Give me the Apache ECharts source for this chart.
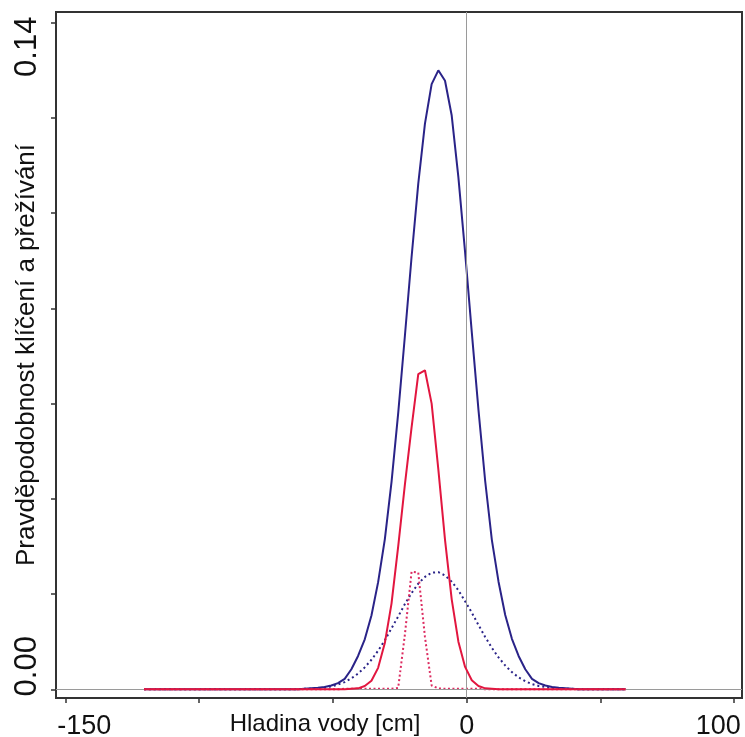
<!DOCTYPE html>
<html>
<head>
<meta charset="utf-8">
<script src="https://cdn.jsdelivr.net/npm/echarts@6/dist/echarts.min.js"></script>
<style>html,body{margin:0;padding:0;background:#fff}#c{width:745px;height:737px}</style>
</head>
<body>
<div id="c"></div>
<script>
// Water level [cm] sample positions
var waterLevel = [
  -120.6,-118.1,-115.6,-113.1,-110.6,-108.1,-105.6,-103.1,-100.6,-98.1,
  -95.6,-93.1,-90.6,-88.1,-85.6,-83.1,-80.6,-78.1,-75.6,-73.1,
  -70.6,-68.1,-65.6,-63.1,-60.6,-58.1,-55.6,-53.1,-50.6,-48.1,
  -45.6,-43.1,-40.6,-38.1,-35.6,-33.1,-30.6,-28.1,-25.6,-23.1,
  -20.6,-18.1,-15.6,-13.1,-10.6,-8.1,-5.6,-3.1,-0.6,1.9,
  4.4,6.9,9.4,11.9,14.4,16.9,19.4,21.9,24.4,26.9,
  29.4,31.9,34.4,36.9,39.4,41.9,44.4,46.9,49.4,51.9,
  54.4,56.9,59.4
];
// blue solid
var blueSolid = [
  0,0,0,0,0,0,0,0,0,0,
  0,0,0,0,0,0,0,0,0,0,
  0,0,0,0,0.0001,0.0002,0.0003,0.0005,0.0008,0.0013,
  0.0022,0.0042,0.0070,0.0105,0.0155,0.0225,0.0315,0.0435,0.0580,0.0742,
  0.0908,0.1062,0.1188,0.1271,0.1300,0.1278,0.1205,0.1075,0.0918,0.0750,
  0.0587,0.0438,0.0314,0.0226,0.0156,0.0106,0.0070,0.0042,0.0022,0.0013,
  0.0008,0.0005,0.0003,0.0002,0.0001,0,0,0,0,0,
  0,0,0
];
// blue dotted
var blueDotted = [
  0,0,0,0,0,0,0,0,0,0,
  0,0,0,0,0,0,0,0,0,0,
  0,0,0,0,0.0001,0.0001,0.0002,0.0004,0.0006,0.0010,
  0.0015,0.0023,0.0033,0.0046,0.0062,0.0081,0.0103,0.0128,0.0153,0.0179,
  0.0202,0.0222,0.0236,0.0245,0.0246,0.0239,0.0226,0.0208,0.0185,0.0161,
  0.0135,0.0110,0.0087,0.0067,0.0050,0.0036,0.0025,0.0017,0.0011,0.0007,
  0.0005,0.0003,0.0002,0.0001,0.0001,0,0,0,0,0,
  0,0,0
];
// red solid
var redSolid = [
  0,0,0,0,0,0,0,0,0,0,
  0,0,0,0,0,0,0,0,0,0,
  0,0,0,0,0,0,0,0,0,0,
  0,0.0001,0.0002,0.0007,0.0018,0.0045,0.0097,0.0180,0.0300,0.0430,
  0.0550,0.0662,0.0670,0.0600,0.0462,0.0314,0.0189,0.0100,0.0047,0.0019,
  0.0007,0.0002,0.0001,0,0,0,0,0,0,0,
  0,0,0,0,0,0,0,0,0,0,
  0,0,0
];
// red dotted
var redDotted = [
  0,0,0,0,0,0,0,0,0,0,
  0,0,0,0,0,0,0,0,0,0,
  0,0,0,0,0,0,0,0,0,0,
  0.0001,0.0001,0.0001,0.0001,0.0001,0.0001,0.0001,0.0001,0.0003,0.0115,
  0.0247,0.0245,0.0110,0.0008,0.0002,0.0001,0.0001,0.0001,0.0001,0.0001,
  0.0001,0,0,0,0,0,0,0,0,0,
  0,0,0,0,0,0,0,0,0,0,
  0,0,0
];
var xTicks = [-150,-100,-50,0,50,100];
var xTickLabels = [-150,0,100];
var yTicks = [0,0.02,0.04,0.06,0.08,0.10,0.12,0.14];
var yTickLabels = [0,0.14];
var xTitle = 'Hladina vody [cm]';
var yTitle = 'Pravděpodobnost klíčení a přežívání';

function pairs(vals){ return waterLevel.map(function(x,i){ return [x, vals[i]]; }); }

var FONT = 'Liberation Sans, Arial, sans-serif';
var BLUE = '#2a2388';
var RED = '#e2163f';
var REDDOT = '#dc2b60';

var chart = echarts.init(document.getElementById('c'), null, {renderer:'canvas'});
chart.setOption({
  animation: false,
  backgroundColor: '#ffffff',
  grid: {left:56, top:12, right:3, bottom:39, show:true, borderColor:'#333', borderWidth:2, containLabel:false, outerBoundsMode:'none'},
  xAxis: {
    type:'value', min:-153.5, max:102.9, position:'bottom',
    axisLine:{show:false, onZero:false},
    splitLine:{show:false},
    axisTick:{show:true, customValues:xTicks, length:5, inside:false, lineStyle:{color:'#333', width:1.5}},
    axisLabel:{
      customValues:xTickLabels, margin:15, color:'#111', fontFamily:FONT, fontSize:27,
      formatter:function(v){ if(v===-150) return '{a|-150}'; if(v===100) return '{c|100}'; return '{b|'+v+'}'; },
      rich:{
        a:{fontSize:27, fontFamily:FONT, color:'#111', padding:[0,0,0,38]},
        b:{fontSize:27, fontFamily:FONT, color:'#111'},
        c:{fontSize:27, fontFamily:FONT, color:'#111', padding:[0,32,0,0]}
      }
    },
    name:xTitle, nameLocation:'middle', nameGap:14, nameMoveOverlap:false,
    nameTextStyle:{fontSize:24, fontFamily:FONT, color:'#111', padding:[0,148,0,0], verticalAlign:'top'}
  },
  yAxis: {
    type:'value', min:-0.00183, max:0.14225, position:'left',
    axisLine:{show:false, onZero:false},
    splitLine:{show:false},
    axisTick:{show:true, customValues:yTicks, length:5, inside:false, lineStyle:{color:'#333', width:1.5}},
    axisLabel:{
      customValues:yTickLabels, rotate:90, margin:13, color:'#111', fontFamily:FONT, fontSize:31,
      formatter:function(v){ return v===0 ? '{lo|0.00}' : '{hi|0.14}'; },
      rich:{
        lo:{fontSize:31, fontFamily:FONT, color:'#111', padding:[0,0,0,46]},
        hi:{fontSize:31, fontFamily:FONT, color:'#111', padding:[0,48,0,0]}
      }
    },
    name:yTitle, nameLocation:'middle', nameGap:16, nameRotate:90, nameMoveOverlap:false,
    nameTextStyle:{fontSize:26, fontFamily:FONT, color:'#111'}
  },
  series: [
    {type:'line', name:'blue', data:pairs(blueSolid), showSymbol:false, symbol:'none', smooth:false,
     lineStyle:{color:BLUE, width:2}, z:2,
     markLine:{silent:true, symbol:'none', label:{show:false}, animation:false,
       lineStyle:{color:'#9a9a9a', width:1, type:'solid'},
       data:[{xAxis:0},{yAxis:0}]}},
    {type:'line', name:'blueDot', data:pairs(blueDotted), showSymbol:false, symbol:'none',
     lineStyle:{color:BLUE, width:2, type:[2,3]}, z:3},
    {type:'line', name:'redDot', data:pairs(redDotted), showSymbol:false, symbol:'none',
     lineStyle:{color:REDDOT, width:2, type:[2,2.5]}, z:4},
    {type:'line', name:'red', data:pairs(redSolid), showSymbol:false, symbol:'none',
     lineStyle:{color:RED, width:2}, z:5}
  ]
});
</script>
</body>
</html>
